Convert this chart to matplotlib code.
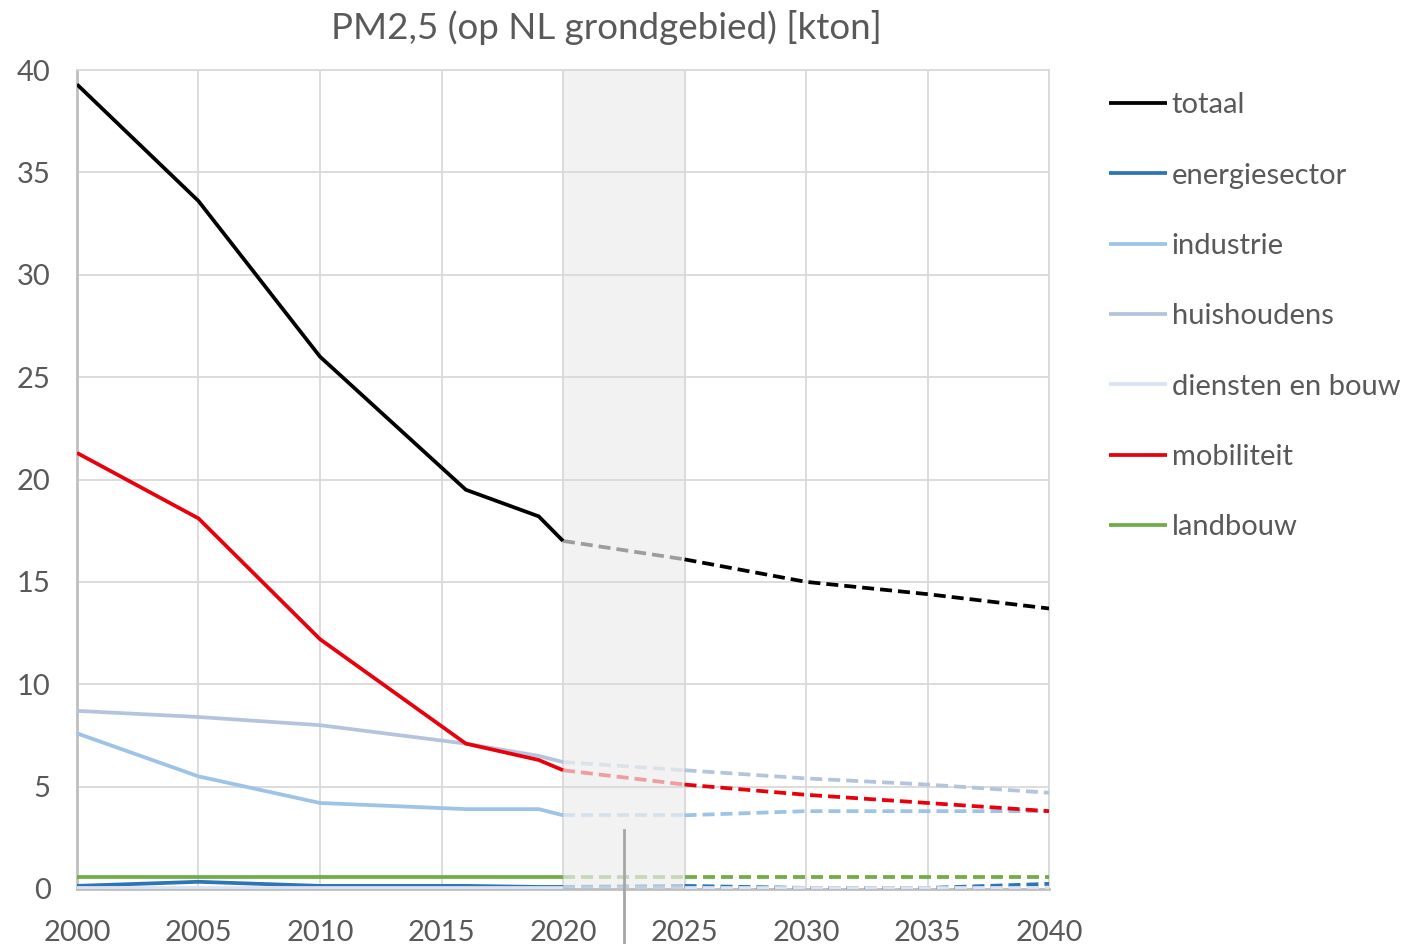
import matplotlib
matplotlib.use('Agg')
import matplotlib.pyplot as plt

plt.rcParams['font.family'] = ['Lato', 'DejaVu Sans']

# historische jaren en prognose
hist_years = [2000, 2005, 2010, 2016, 2019, 2020]
proj_years = [2020, 2025, 2030, 2035, 2040]

series = ['totaal', 'energiesector', 'industrie', 'huishoudens',
          'diensten en bouw', 'mobiliteit', 'landbouw']

totaal_hist = [39.3, 33.6, 26.0, 19.5, 18.2, 17.0]
energie_hist = [0.15, 0.35, 0.15, 0.15, 0.1, 0.1]
industrie_hist = [7.6, 5.5, 4.2, 3.9, 3.9, 3.6]
huishoudens_hist = [8.7, 8.4, 8.0, 7.1, 6.5, 6.2]
diensten_hist = [0.05, 0.05, 0.05, 0.05, 0.05, 0.05]
mobiliteit_hist = [21.3, 18.1, 12.2, 7.1, 6.3, 5.8]
landbouw_hist = [0.6, 0.6, 0.6, 0.6, 0.6, 0.6]

totaal_proj = [17.0, 16.1, 15.0, 14.4, 13.7]
energie_proj = [0.1, 0.15, 0.05, 0.05, 0.25]
industrie_proj = [3.6, 3.6, 3.8, 3.8, 3.8]
huishoudens_proj = [6.2, 5.8, 5.4, 5.1, 4.7]
diensten_proj = [0.05, 0.05, 0.05, 0.05, 0.05]
mobiliteit_proj = [5.8, 5.1, 4.6, 4.2, 3.8]
landbouw_proj = [0.6, 0.6, 0.6, 0.6, 0.6]

hist = [totaal_hist, energie_hist, industrie_hist, huishoudens_hist,
        diensten_hist, mobiliteit_hist, landbouw_hist]
proj = [totaal_proj, energie_proj, industrie_proj, huishoudens_proj,
        diensten_proj, mobiliteit_proj, landbouw_proj]
colors = ['#000000', '#2e75b6', '#9dc3e6', '#b4c4dc', '#dae3f3', '#e8000b', '#70ad47']

marker_year = 2022.5

fig = plt.figure(figsize=(14.1, 9.44), dpi=100)
ax = fig.add_axes([0.0546, 0.0583, 0.6894, 0.8675])

ax.axvspan(2020, 2025, color='#f2f2f2', zorder=0)

# onderste lijnen eerst tekenen zodat totaal/mobiliteit bovenop liggen
order = [4, 3, 2, 6, 1, 5, 0]
lw = 2.7
for i in order:
    c = colors[i]
    ax.plot(hist_years, hist[i], color=c, lw=lw, zorder=3 + i * 0.1,
            solid_capstyle='butt', label=series[i])
    ax.plot(proj_years[:2], proj[i][:2], color=c, lw=lw, alpha=0.35,
            dashes=(3.2, 1.6), zorder=3 + i * 0.1)
    ax.plot(proj_years[1:], proj[i][1:], color=c, lw=lw,
            dashes=(3.2, 1.6), zorder=3 + i * 0.1)

ax.plot([marker_year, marker_year], [2.9, -2.7], color='#a6a6a6', lw=2,
        clip_on=False, zorder=5)

ax.set_xlim(2000, 2040)
ax.set_ylim(0, 40)
ax.set_xticks(range(2000, 2041, 5))
ax.set_yticks(range(0, 41, 5))
ax.grid(color='#d9d9d9', lw=1.3)
ax.set_axisbelow(True)
for s in ax.spines.values():
    s.set_color('#d9d9d9')
    s.set_linewidth(1.3)
ax.spines['left'].set_color('#bfbfbf')
ax.spines['left'].set_linewidth(2)
ax.spines['bottom'].set_color('#bfbfbf')
ax.spines['bottom'].set_linewidth(2)
ax.tick_params(length=0, labelsize=21, colors='#595959')
ax.tick_params(axis='x', pad=22)
ax.tick_params(axis='y', pad=19)

fig.text(0.43, 0.971, 'PM2,5 (op NL grondgebied) [kton]', ha='center', va='center',
         fontsize=26.5, color='#595959')

handles, labels = ax.get_legend_handles_labels()
lookup = dict(zip(labels, handles))
fig.legend([lookup[s] for s in series], series, loc='upper left',
           bbox_to_anchor=(0.768, 0.93), frameon=False, fontsize=21,
           handlelength=2.0, handletextpad=0.15, labelspacing=1.52,
           labelcolor='#595959')

fig.savefig('out.png', dpi=100)
